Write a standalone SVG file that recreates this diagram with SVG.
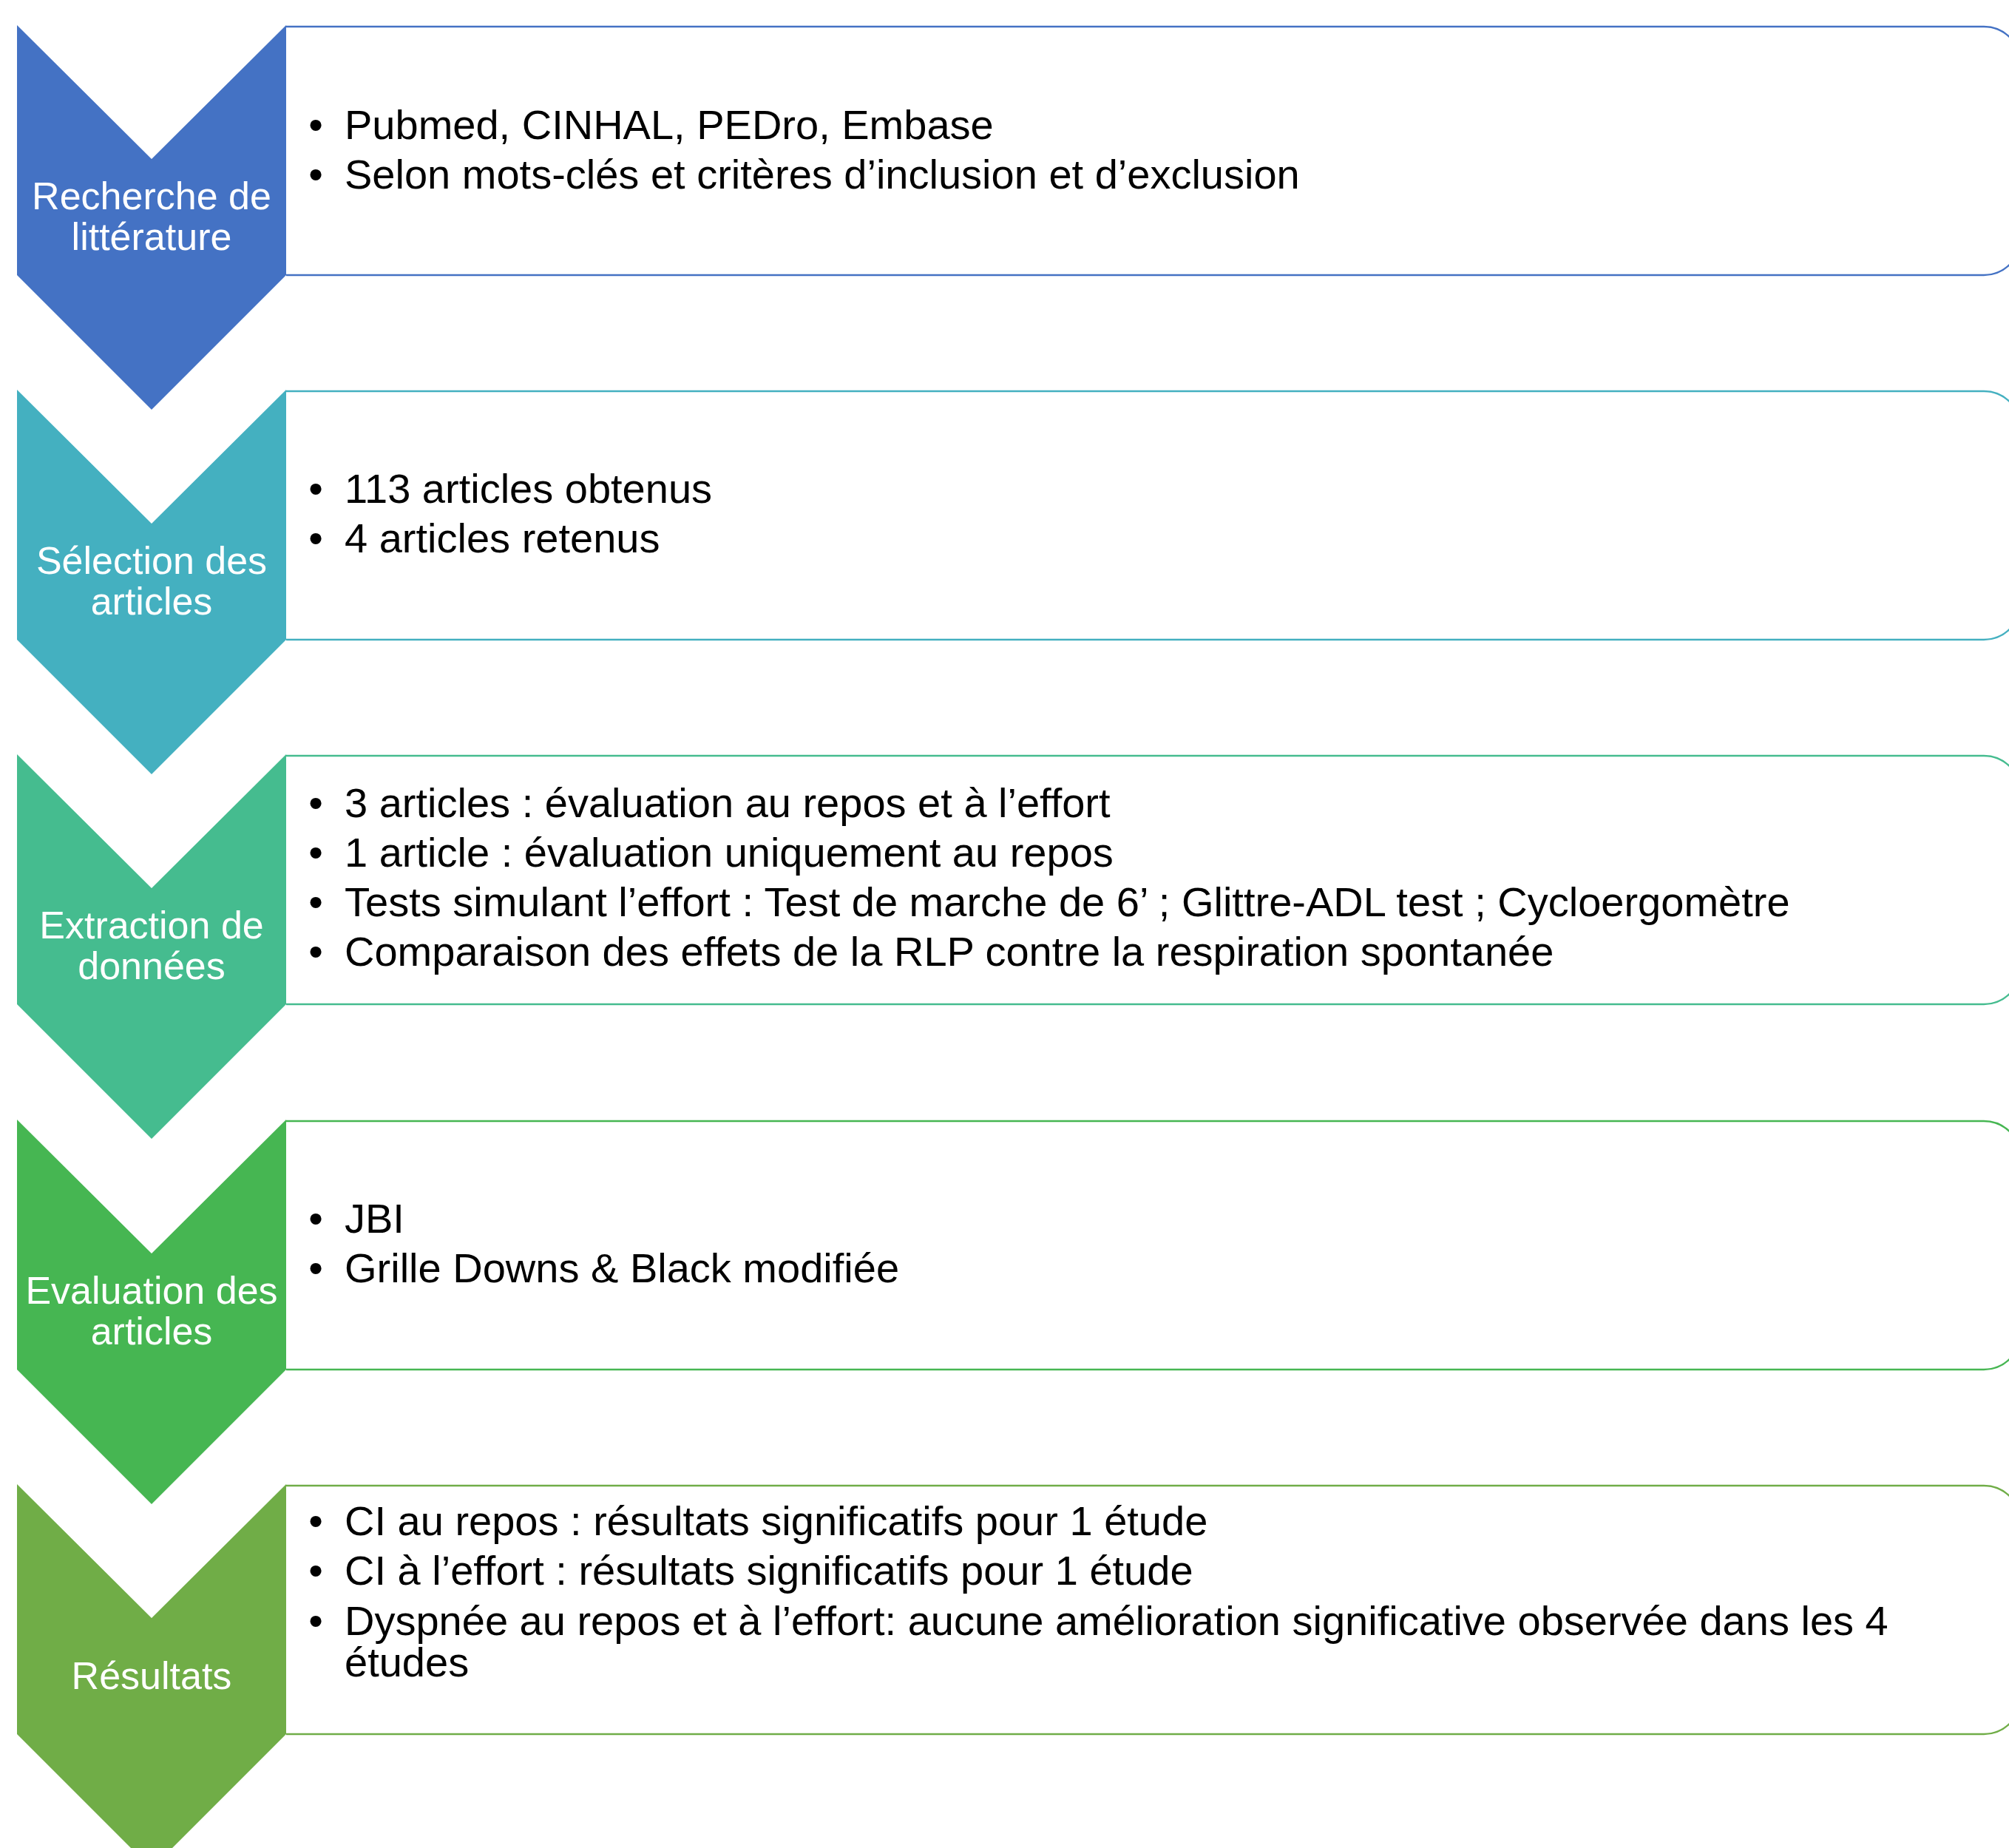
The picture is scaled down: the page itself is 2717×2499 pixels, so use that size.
<svg xmlns="http://www.w3.org/2000/svg" width="2717" height="2499" viewBox="0 0 2717 2499">
<style>
.box{fill:#FFFFFF;stroke-width:2.5}
.chev{stroke:none}
.lbl{font-family:"Liberation Sans",Arial,sans-serif;font-size:52px;fill:#FFFFFF;text-anchor:middle}
.txt{font-family:"Liberation Sans",Arial,sans-serif;font-size:56px;fill:#000000}
.bul{font-family:"Liberation Sans",Arial,sans-serif;font-size:56px;fill:#000000;text-anchor:middle}
</style>
<rect width="2717" height="2499" fill="#FFFFFF"/>
<g id="connectors"></g>

<g id="step1">
<path class="box" stroke="#4472C4" d="M387,36 H2683 A50,50 0 0 1 2733,86 V322 A50,50 0 0 1 2683,372 H387"/>
<polygon class="chev" fill="#4472C4" points="23,34 205,215 387,34 387,372 205,554 23,372"/>
<text class="lbl"><tspan x="205" y="283">Recherche de</tspan><tspan x="205" y="338">littérature</tspan></text>
<text class="bul" x="427" y="188">•</text><text class="txt" x="466" y="188">Pubmed, CINHAL, PEDro, Embase</text>
<text class="bul" x="427" y="255">•</text><text class="txt" x="466" y="255">Selon mots-clés et critères d’inclusion et d’exclusion</text>
</g>

<g id="step2">
<path class="box" stroke="#44B0C0" d="M387,529 H2683 A50,50 0 0 1 2733,579 V815 A50,50 0 0 1 2683,865 H387"/>
<polygon class="chev" fill="#44B0C0" points="23,527 205,708 387,527 387,865 205,1047 23,865"/>
<text class="lbl"><tspan x="205" y="776">Sélection des</tspan><tspan x="205" y="831">articles</tspan></text>
<text class="bul" x="427" y="680">•</text><text class="txt" x="466" y="680">113 articles obtenus</text>
<text class="bul" x="427" y="747">•</text><text class="txt" x="466" y="747">4 articles retenus</text>
</g>

<g id="step3">
<path class="box" stroke="#45BC8F" d="M387,1022 H2683 A50,50 0 0 1 2733,1072 V1308 A50,50 0 0 1 2683,1358 H387"/>
<polygon class="chev" fill="#45BC8F" points="23,1020 205,1201 387,1020 387,1358 205,1540 23,1358"/>
<text class="lbl"><tspan x="205" y="1269">Extraction de</tspan><tspan x="205" y="1324">données</tspan></text>
<text class="bul" x="427" y="1105">•</text><text class="txt" x="466" y="1105">3 articles : évaluation au repos et à l’effort</text>
<text class="bul" x="427" y="1172">•</text><text class="txt" x="466" y="1172">1 article : évaluation uniquement au repos</text>
<text class="bul" x="427" y="1239">•</text><text class="txt" x="466" y="1239">Tests simulant l’effort : Test de marche de 6’ ; Glittre-ADL test ; Cycloergomètre</text>
<text class="bul" x="427" y="1306">•</text><text class="txt" x="466" y="1306">Comparaison des effets de la RLP contre la respiration spontanée</text>
</g>

<g id="step4">
<path class="box" stroke="#46B652" d="M387,1516 H2683 A50,50 0 0 1 2733,1566 V1802 A50,50 0 0 1 2683,1852 H387"/>
<polygon class="chev" fill="#46B652" points="23,1514 205,1695 387,1514 387,1852 205,2034 23,1852"/>
<text class="lbl"><tspan x="205" y="1763">Evaluation des</tspan><tspan x="205" y="1818">articles</tspan></text>
<text class="bul" x="427" y="1667">•</text><text class="txt" x="466" y="1667">JBI</text>
<text class="bul" x="427" y="1734">•</text><text class="txt" x="466" y="1734">Grille Downs &amp; Black modifiée</text>
</g>

<g id="step5">
<path class="box" stroke="#70AD47" d="M387,2009 H2683 A50,50 0 0 1 2733,2059 V2295 A50,50 0 0 1 2683,2345 H387"/>
<polygon class="chev" fill="#70AD47" points="23,2007 205,2188 387,2007 387,2345 205,2527 23,2345"/>
<text class="lbl" x="205" y="2284">Résultats</text>
<text class="bul" x="427" y="2076">•</text><text class="txt" x="466" y="2076">CI au repos : résultats significatifs pour 1 étude</text>
<text class="bul" x="427" y="2143">•</text><text class="txt" x="466" y="2143">CI à l’effort : résultats significatifs pour 1 étude</text>
<text class="bul" x="427" y="2211">•</text><text class="txt" x="466" y="2211">Dyspnée au repos et à l’effort: aucune amélioration significative observée dans les 4</text>
<text class="txt" x="466" y="2267">études</text>
</g>
</svg>
